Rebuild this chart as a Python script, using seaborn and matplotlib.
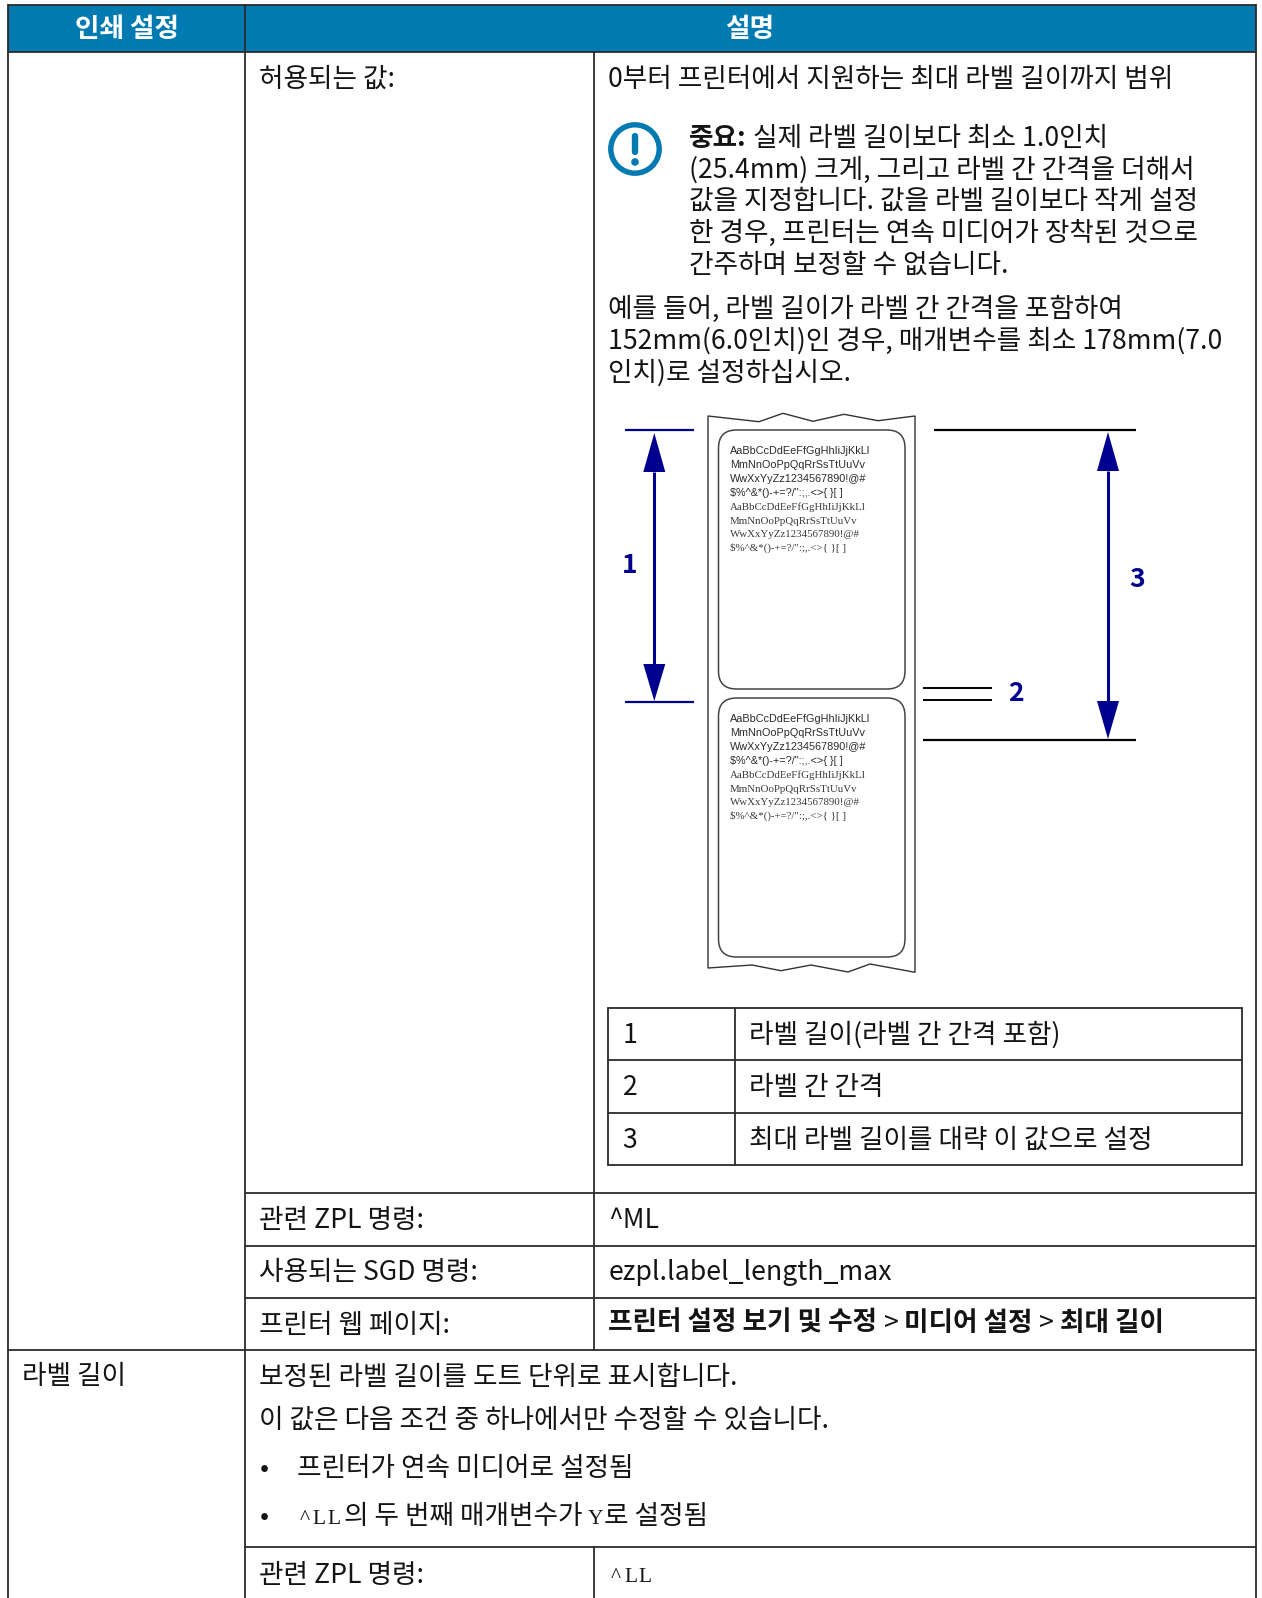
import matplotlib
matplotlib.use("Agg")
import matplotlib.pyplot as plt
import seaborn as sns
import pandas as pd
from matplotlib.patches import FancyBboxPatch, Circle, Rectangle, Polygon

sns.set_theme(style="white")
KR = ["Noto Sans CJK KR", "DejaVu Sans"]
plt.rcParams["font.family"] = KR

W, H = 1262, 1598
fig = plt.figure(figsize=(W / 100, H / 100), dpi=100)
ax = fig.add_axes([0, 0, 1, 1])
ax.set_xlim(0, W)
ax.set_ylim(H, 0)
ax.axis("off")

BLUE = "#007AB0"
NAVY = "#00008F"
INK = "#141414"
FS = 19.2

# ---------- text content ----------
header_labels = ["인쇄 설정", "설명"]
allowed_label = "허용되는 값:"
allowed_value = "0부터 프린터에서 지원하는 최대 라벨 길이까지 범위"
important_bold = "중요:"
important_lines = ["실제 라벨 길이보다 최소 1.0인치",
                   "(25.4mm) 크게, 그리고 라벨 간 간격을 더해서",
                   "값을 지정합니다. 값을 라벨 길이보다 작게 설정",
                   "한 경우, 프린터는 연속 미디어가 장착된 것으로",
                   "간주하며 보정할 수 없습니다."]
example_lines = ["예를 들어, 라벨 길이가 라벨 간 간격을 포함하여",
                 "152mm(6.0인치)인 경우, 매개변수를 최소 178mm(7.0",
                 "인치)로 설정하십시오."]
legend_numbers = ["1", "2", "3"]
legend_texts = ["라벨 길이(라벨 간 간격 포함)", "라벨 간 간격", "최대 라벨 길이를 대략 이 값으로 설정"]
row_labels = ["관련 ZPL 명령:", "사용되는 SGD 명령:", "프린터 웹 페이지:"]
row_values = ["^ML", "ezpl.label_length_max"]
web_runs = [("프린터 설정 보기 및 수정", True), (" > ", False), ("미디어 설정", True), (" > ", False), ("최대 길이", True)]
section_label = "라벨 길이"
section_lines = ["보정된 라벨 길이를 도트 단위로 표시합니다.", "이 값은 다음 조건 중 하나에서만 수정할 수 있습니다."]
bullet_one = "프린터가 연속 미디어로 설정됨"
bullet_two = [("^LL", "mono"), ("의 두 번째 매개변수가 ", "kr"), ("Y", "mono"), ("로 설정됨", "kr")]
last_label = "관련 ZPL 명령:"
last_value = "^LL"
sans_sample = ["AaBbCcDdEeFfGgHhIiJjKkLl", "MmNnOoPpQqRrSsTtUuVv", "WwXxYyZz1234567890!@#", "$%^&*()-+=?/\":;,.<>{ }[ ]"]

# ---------- table rules (pixel layout) ----------
rules = [
    (8, 5, 1256, 5), (8, 52, 1256, 52), (8, 1350, 1256, 1350),
    (245, 1193, 1256, 1193), (245, 1246, 1256, 1246), (245, 1298, 1256, 1298), (245, 1547, 1256, 1547),
    (8, 5, 8, 1598), (245, 5, 245, 1598), (1256, 5, 1256, 1598),
    (594, 52, 594, 1350), (594, 1547, 594, 1598),
    (608, 1008, 1242, 1008), (608, 1060, 1242, 1060), (608, 1113, 1242, 1113), (608, 1165, 1242, 1165),
    (608, 1008, 608, 1165), (735, 1008, 735, 1165), (1242, 1008, 1242, 1165),
]
ax.add_patch(Rectangle((8, 5), 1248, 47, facecolor=BLUE, edgecolor="none", zorder=0))
rows = []
for i, (x0, y0, x1, y1) in enumerate(rules):
    rows += [dict(rule=i, x=x0, y=y0), dict(rule=i, x=x1, y=y1)]
sns.lineplot(data=pd.DataFrame(rows), x="x", y="y", units="rule", estimator=None, sort=False,
             color="#2b2b2b", linewidth=1.3, legend=False, ax=ax, zorder=2)
ax.set_xlim(0, W)
ax.set_ylim(H, 0)


def put(x, y, s, weight="normal", size=FS, color=INK, ha="left", family=None, **kw):
    return ax.text(x, y, s, fontsize=size, fontweight=weight, color=color, ha=ha, va="baseline",
                   family=family or KR, zorder=5, **kw)


MONO_PITCH = 14.7
MONO_ADV = 15.7


def mono(x, y, s):
    # slab-serif fixed-pitch look: serif glyphs placed on a fixed pitch
    for i, ch in enumerate(s):
        put(x + i * MONO_PITCH + MONO_PITCH / 2, y, ch, family="Liberation Serif", size=15.5, ha="center")
    return x + len(s) * MONO_ADV


def runs(x, y, parts):
    r = fig.canvas.get_renderer()
    for s, kind in parts:
        if kind == "mono":
            x = mono(x, y, s)
        else:
            t = put(x, y, s, weight="bold" if kind is True else "normal")
            x += t.get_window_extent(r).width


X2, X3 = 259, 608.5
# ---------- header ----------
put(127, 37, header_labels[0], weight="bold", size=19.2, color="white", ha="center")
put(750, 37, header_labels[1], weight="bold", size=19.2, color="white", ha="center")

put(X2, 87, allowed_label)
put(X3, 87, allowed_value)

# ---------- important note ----------
ax.add_patch(Circle((635, 149), 24.2, facecolor="none", edgecolor=BLUE, linewidth=3.9, zorder=4))
ax.add_patch(FancyBboxPatch((631.8, 133), 6.4, 22, boxstyle="round,pad=0,rounding_size=3",
                            facecolor=BLUE, edgecolor="none", zorder=4))
ax.add_patch(Circle((635, 162), 3.8, facecolor=BLUE, edgecolor="none", zorder=4))
imp_y = [146, 177.5, 209, 241, 273]
put(689, imp_y[0], important_bold, weight="bold")
put(753, imp_y[0], important_lines[0])
for yy, s in zip(imp_y[1:], important_lines[1:]):
    put(689, yy, s)
for yy, s in zip([316.5, 349, 381], example_lines):
    put(X3, yy, s)

# ---------- label diagram ----------
top_x = [708, 759, 783, 813, 844, 878, 915]
top_y = [416, 421.7, 413.3, 421.3, 414.3, 420.7, 416]
bot_x = [708, 752, 781, 811, 848, 870, 915]
bot_y = [968, 965, 970.7, 965, 972, 964, 972.3]
outline = list(zip(top_x, top_y)) + list(zip(bot_x[::-1], bot_y[::-1]))
ax.add_patch(Polygon(outline, closed=True, facecolor="white", edgecolor="#333333", linewidth=1.0, zorder=3))
for y0, y1 in [(430, 689), (698, 957)]:
    ax.add_patch(FancyBboxPatch((718.5, y0), 186.5, y1 - y0, boxstyle="round,pad=0,rounding_size=18",
                                facecolor="none", edgecolor="#444444", linewidth=1.1, zorder=4))
for base, in [(451,), (719,)]:
    for i, s in enumerate(sans_sample):
        put(730, base + 3.5 + i * 14, s, family="Liberation Sans", size=7.8, color="#2a2a2a")
    for i, s in enumerate(sans_sample):
        put(730, base + 59.5 + i * 13.4, s, family="Liberation Serif", size=7.85, color="#3a3a3a")


def arrow(x, tip_top, base_top, tip_bot, base_bot, half):
    ax.plot([x, x], [base_top, base_bot], color=NAVY, lw=2.2, zorder=4, solid_capstyle="butt")
    ax.add_patch(Polygon([(x, tip_top), (x - half, base_top), (x + half, base_top)], facecolor=NAVY, edgecolor="none", zorder=4))
    ax.add_patch(Polygon([(x, tip_bot), (x - half, base_bot), (x + half, base_bot)], facecolor=NAVY, edgecolor="none", zorder=4))


arrow(654.3, 433, 472, 701, 664, 11)
arrow(1108, 432, 471, 739, 701, 11)
for x0, x1, yy, c, lw in [(625, 694, 430, NAVY, 1.6), (625, 694, 702, NAVY, 1.6),
                          (934, 1136, 430, "black", 1.6), (923, 1136, 740, "black", 1.6),
                          (923, 992, 687.5, "black", 1.4), (923, 992, 700, "black", 1.4)]:
    ax.plot([x0, x1], [yy, yy], color=c, lw=lw, zorder=4, solid_capstyle="butt")
for x, y, s in [(629.5, 573, "1"), (1016, 701, "2"), (1137, 587, "3")]:
    put(x, y, s, weight="bold", size=19, color=NAVY, ha="center")

# ---------- legend table ----------
for yy, n, s in zip([1043, 1095, 1147.5], legend_numbers, legend_texts):
    put(622.5, yy, n)
    put(749, yy, s)

# ---------- rows ----------
for yy, s in zip([1228, 1280, 1333], row_labels):
    put(X2, yy, s)
put(X3, 1228, row_values[0])
put(X3, 1280, row_values[1])
runs(X3, 1331, web_runs)

# ---------- section ----------
put(22.5, 1384.5, section_label)
put(X2, 1385, section_lines[0])
put(X2, 1428, section_lines[1])
put(260, 1476, "•")
put(260, 1524, "•")
put(297, 1475.5, bullet_one)
runs(297, 1524, bullet_two)
put(X2, 1583, last_label)
mono(X3, 1582, last_value)

fig.savefig("out.png", dpi=100, facecolor="white")
